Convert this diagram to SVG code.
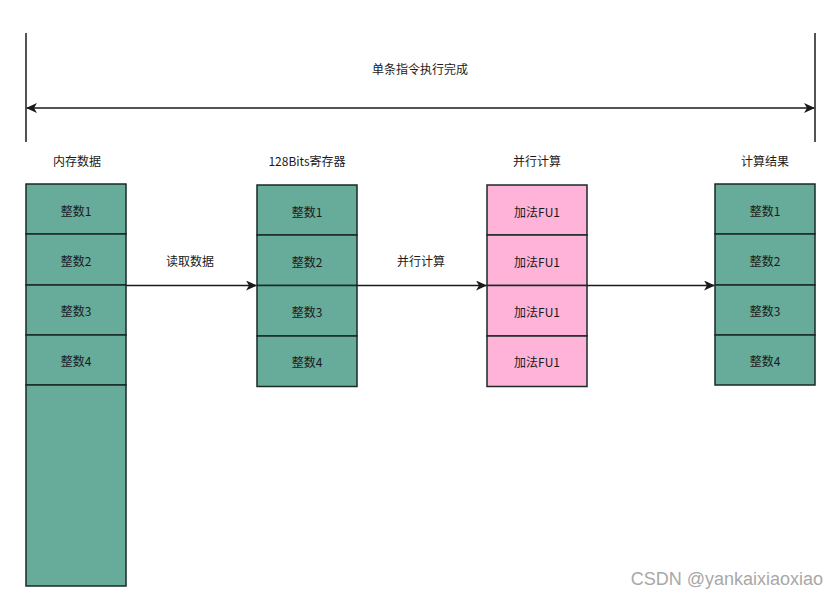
<svg xmlns="http://www.w3.org/2000/svg" width="840" height="599" viewBox="0 0 840 599">
<style>
text{font-family:"Noto Sans CJK SC","Liberation Sans",sans-serif;font-size:12px;fill:#1a1a1a;text-anchor:middle;dominant-baseline:central}
.g{fill:#67AB9A;stroke:#1a2a25;stroke-width:1.5}
.p{fill:#FFB3D9;stroke:#1a2a25;stroke-width:1.5}
.ln{stroke:#1a1a1a;stroke-width:1.5;fill:none}
.wm{font-family:"Liberation Sans",sans-serif;font-size:18px;fill:#a8a8a8;text-anchor:end;dominant-baseline:auto}
</style>
<defs>
<marker id="ah" markerWidth="12" markerHeight="10" refX="10" refY="5" orient="auto-start-reverse" markerUnits="userSpaceOnUse">
<path d="M0,0 L11,5 L0,10 L3,5 Z" fill="#1a1a1a"/>
</marker>
</defs>
<rect width="840" height="599" fill="#ffffff"/>
<g id="span">
<line class="ln" x1="26" y1="33" x2="26" y2="142"/>
<line class="ln" x1="815" y1="33" x2="815" y2="142"/>
<text x="420" y="68">单条指令执行完成</text>
</g>
<g id="connectors">
<line class="ln" x1="27" y1="108" x2="814" y2="108" marker-start="url(#ah)" marker-end="url(#ah)"/>
<line class="ln" x1="126" y1="285.5" x2="256" y2="285.5" marker-end="url(#ah)"/>
<line class="ln" x1="357" y1="285.5" x2="486" y2="285.5" marker-end="url(#ah)"/>
<line class="ln" x1="587" y1="285.5" x2="714" y2="285.5" marker-end="url(#ah)"/>
<text x="190" y="260">读取数据</text>
<text x="421" y="260">并行计算</text>
</g>
<g id="memory">
<text x="77" y="160">内存数据</text>
<rect class="g" x="26" y="184" width="100" height="50"/><text x="76" y="210">整数1</text>
<rect class="g" x="26" y="234" width="100" height="51"/><text x="76" y="260">整数2</text>
<rect class="g" x="26" y="285" width="100" height="50"/><text x="76" y="310">整数3</text>
<rect class="g" x="26" y="335" width="100" height="50"/><text x="76" y="360">整数4</text>
<rect class="g" x="26" y="385" width="100" height="201"/>
</g>
<g id="register">
<text x="307" y="160">128Bits寄存器</text>
<rect class="g" x="257" y="185" width="100" height="50"/><text x="307" y="211">整数1</text>
<rect class="g" x="257" y="235" width="100" height="50.5"/><text x="307" y="261">整数2</text>
<rect class="g" x="257" y="285.5" width="100" height="50.5"/><text x="307" y="311">整数3</text>
<rect class="g" x="257" y="336" width="100" height="50.5"/><text x="307" y="361">整数4</text>
</g>
<g id="parallel">
<text x="537" y="160">并行计算</text>
<rect class="p" x="487" y="185" width="100" height="50"/><text x="537" y="211">加法FU1</text>
<rect class="p" x="487" y="235" width="100" height="50.5"/><text x="537" y="261">加法FU1</text>
<rect class="p" x="487" y="285.5" width="100" height="50.5"/><text x="537" y="311">加法FU1</text>
<rect class="p" x="487" y="336" width="100" height="50.5"/><text x="537" y="361">加法FU1</text>
</g>
<g id="result">
<text x="765" y="160">计算结果</text>
<rect class="g" x="715" y="184" width="100" height="50"/><text x="765" y="210">整数1</text>
<rect class="g" x="715" y="234" width="100" height="51"/><text x="765" y="260">整数2</text>
<rect class="g" x="715" y="285" width="100" height="50"/><text x="765" y="310">整数3</text>
<rect class="g" x="715" y="335" width="100" height="50"/><text x="765" y="360">整数4</text>
</g>
<text class="wm" x="823" y="585">CSDN @yankaixiaoxiao</text>
</svg>
